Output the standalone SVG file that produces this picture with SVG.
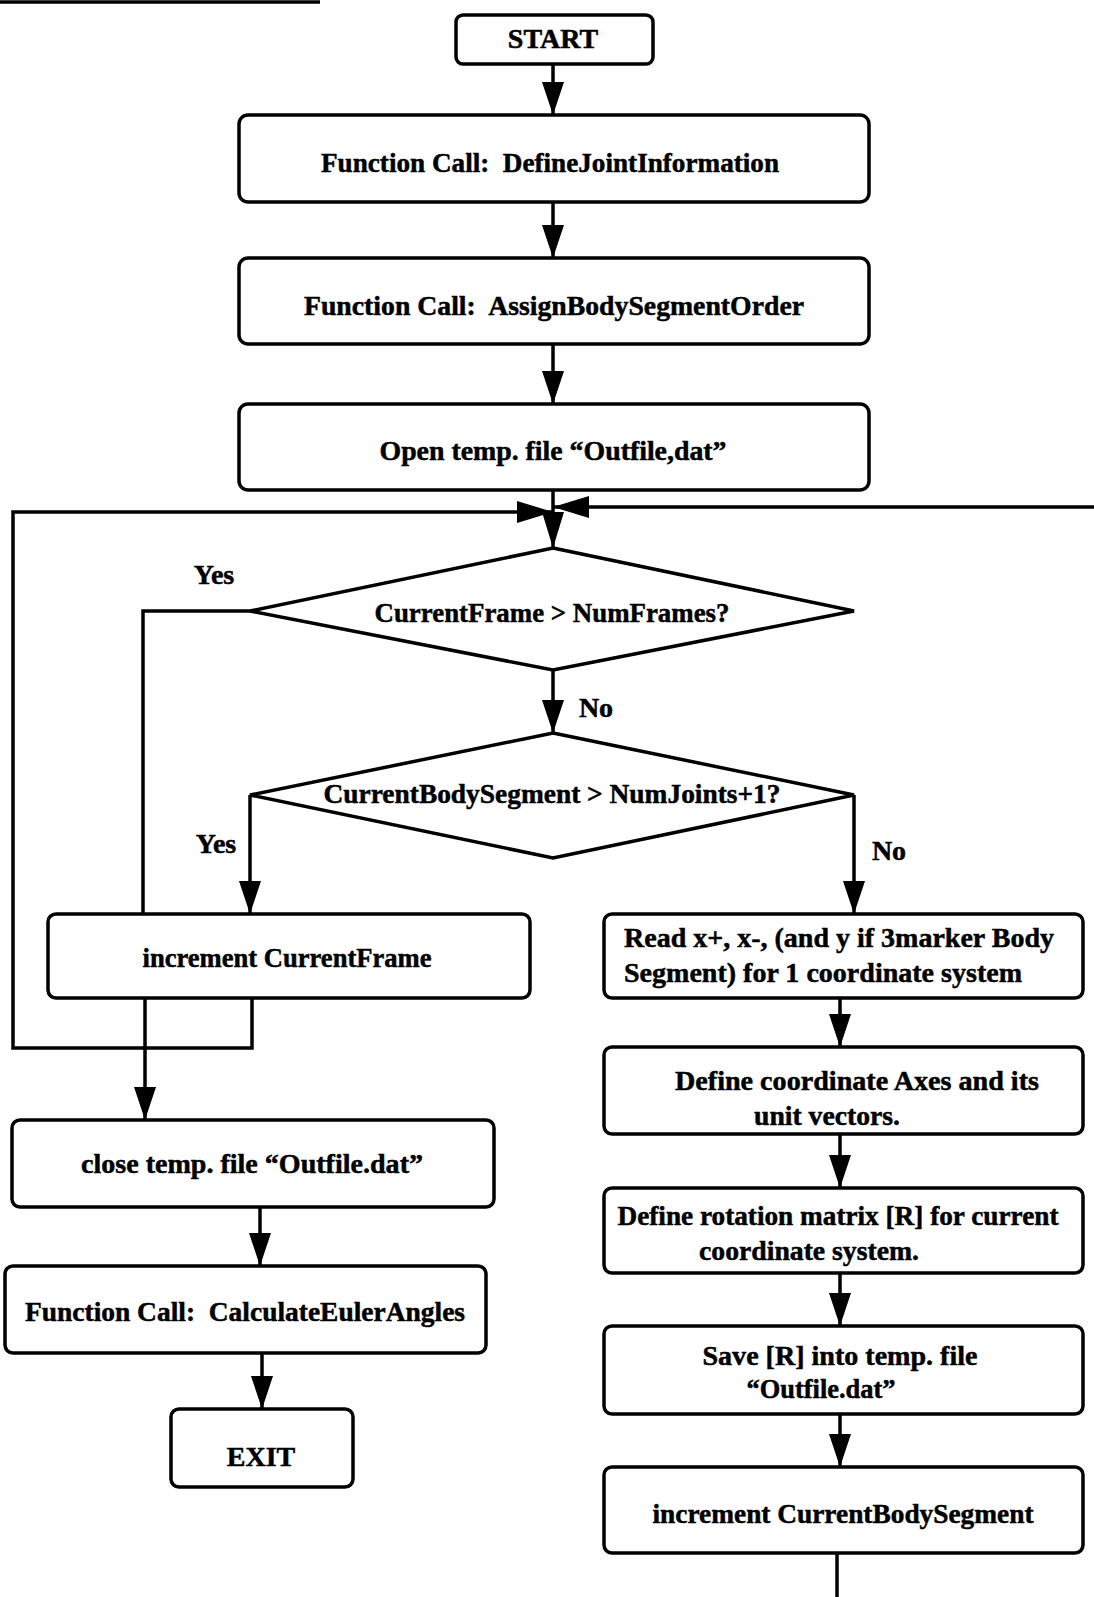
<svg xmlns="http://www.w3.org/2000/svg" width="1094" height="1597" viewBox="0 0 1094 1597">
  <style>
    .box { fill: #fff; stroke: #000; stroke-width: 3.5; }
    .dia { fill: #fff; stroke: #000; stroke-width: 3.5; stroke-linejoin: miter; }
    .ln { fill: none; stroke: #000; stroke-width: 3.5; }
    .lbl { font-family: "Liberation Serif", "Times New Roman", serif; font-weight: bold; font-size: 28px; fill: #000; stroke: #000; stroke-width: 0.5; text-anchor: middle; }
    .lft { text-anchor: start; }
  </style>
  <defs>
    <marker id="arrow" markerUnits="userSpaceOnUse" markerWidth="33" markerHeight="22" refX="33" refY="11" orient="auto">
      <path d="M0,0 L33,11 L0,22 z" fill="#000"/>
    </marker>
    <marker id="arrow-lg" markerUnits="userSpaceOnUse" markerWidth="36" markerHeight="22" refX="36" refY="11" orient="auto">
      <path d="M0,0 L36,11 L0,22 z" fill="#000"/>
    </marker>
  </defs>
  <rect width="1094" height="1597" fill="#fff"/>

  <!-- rule across the top edge -->
  <line class="ln" x1="0" y1="2" x2="320" y2="2" stroke-width="2.5"/>

  <!-- connectors -->
  <g id="connectors">
    <line class="ln" x1="553" y1="64" x2="553" y2="115" marker-end="url(#arrow)"/>
    <line class="ln" x1="553" y1="202" x2="553" y2="258" marker-end="url(#arrow)"/>
    <line class="ln" x1="553" y1="344" x2="553" y2="404" marker-end="url(#arrow)"/>
    <line class="ln" x1="553" y1="490" x2="553" y2="548" marker-end="url(#arrow-lg)"/>
    <!-- outer frame loop back to the test -->
    <polyline class="ln" points="252,998 252,1048 13,1048 13,512 553,512" marker-end="url(#arrow-lg)"/>
    <!-- return from body-segment loop -->
    <line class="ln" x1="1094" y1="507" x2="553" y2="507" marker-end="url(#arrow-lg)"/>
    <!-- CurrentFrame > NumFrames? : Yes -->
    <polyline class="ln" points="250,611 143,611 143,914"/>
    <line class="ln" x1="145" y1="998" x2="145" y2="1120" marker-end="url(#arrow)"/>
    <!-- No -->
    <line class="ln" x1="553" y1="670" x2="553" y2="733" marker-end="url(#arrow)"/>
    <!-- CurrentBodySegment test branches -->
    <line class="ln" x1="250" y1="795" x2="250" y2="914" marker-end="url(#arrow)"/>
    <line class="ln" x1="854" y1="795" x2="854" y2="914" marker-end="url(#arrow)"/>
    <!-- right column -->
    <line class="ln" x1="840" y1="998" x2="840" y2="1047" marker-end="url(#arrow)"/>
    <line class="ln" x1="840" y1="1134" x2="840" y2="1188" marker-end="url(#arrow)"/>
    <line class="ln" x1="840" y1="1273" x2="840" y2="1326" marker-end="url(#arrow)"/>
    <line class="ln" x1="840" y1="1414" x2="840" y2="1467" marker-end="url(#arrow)"/>
    <line class="ln" x1="837" y1="1553" x2="837" y2="1597"/>
    <!-- left column -->
    <line class="ln" x1="260" y1="1207" x2="260" y2="1266" marker-end="url(#arrow)"/>
    <line class="ln" x1="262" y1="1353" x2="262" y2="1409" marker-end="url(#arrow)"/>
  </g>

  <!-- branch labels -->
  <g id="branch-labels">
    <text class="lbl" x="214" y="584">Yes</text>
    <text class="lbl" x="596" y="717">No</text>
    <text class="lbl" x="216" y="853">Yes</text>
    <text class="lbl" x="889" y="860">No</text>
  </g>

  <g id="start">
    <rect class="box" x="456" y="15" width="197" height="49" rx="7"/>
    <text class="lbl" x="553" y="48">START</text>
  </g>

  <g id="define-joint-info">
    <rect class="box" x="239" y="115" width="630" height="87" rx="9"/>
    <text class="lbl" x="550" y="172" textLength="458" lengthAdjust="spacingAndGlyphs">Function Call:&#160; DefineJointInformation</text>
  </g>

  <g id="assign-segment-order">
    <rect class="box" x="239" y="258" width="630" height="86" rx="9"/>
    <text class="lbl" x="554" y="315" textLength="500" lengthAdjust="spacingAndGlyphs">Function Call:&#160; AssignBodySegmentOrder</text>
  </g>

  <g id="open-file">
    <rect class="box" x="239" y="404" width="630" height="86" rx="9"/>
    <text class="lbl" x="553" y="460" textLength="347" lengthAdjust="spacingAndGlyphs">Open temp. file “Outfile,dat”</text>
  </g>

  <g id="frame-test">
    <polygon class="dia" points="553,548 854,611 553,670 250,611"/>
    <text class="lbl" x="552" y="622" textLength="355" lengthAdjust="spacingAndGlyphs">CurrentFrame &gt; NumFrames?</text>
  </g>

  <g id="segment-test">
    <polygon class="dia" points="553,733 854,795 553,858 250,795"/>
    <text class="lbl" x="552" y="803" textLength="457" lengthAdjust="spacingAndGlyphs">CurrentBodySegment &gt; NumJoints+1?</text>
  </g>

  <g id="increment-frame">
    <rect class="box" x="48" y="914" width="482" height="84" rx="8"/>
    <text class="lbl" x="287" y="967" textLength="289" lengthAdjust="spacingAndGlyphs">increment CurrentFrame</text>
  </g>

  <g id="read-markers">
    <rect class="box" x="604" y="914" width="479" height="84" rx="8"/>
    <text class="lbl lft" x="624" y="947" textLength="430" lengthAdjust="spacingAndGlyphs">Read x+, x-, (and y if 3marker Body</text>
    <text class="lbl lft" x="624" y="982" textLength="398" lengthAdjust="spacingAndGlyphs">Segment) for 1 coordinate system</text>
  </g>

  <g id="define-axes">
    <rect class="box" x="604" y="1047" width="479" height="87" rx="8"/>
    <text class="lbl" x="857" y="1090" textLength="364" lengthAdjust="spacingAndGlyphs">Define coordinate Axes and its</text>
    <text class="lbl" x="827" y="1125" textLength="146" lengthAdjust="spacingAndGlyphs">unit vectors.</text>
  </g>

  <g id="rotation-matrix">
    <rect class="box" x="604" y="1188" width="479" height="85" rx="8"/>
    <text class="lbl" x="838" y="1225" textLength="441" lengthAdjust="spacingAndGlyphs">Define rotation matrix [R] for current</text>
    <text class="lbl" x="809" y="1260" textLength="220" lengthAdjust="spacingAndGlyphs">coordinate system.</text>
  </g>

  <g id="save-matrix">
    <rect class="box" x="604" y="1326" width="479" height="88" rx="8"/>
    <text class="lbl" x="840" y="1365" textLength="275" lengthAdjust="spacingAndGlyphs">Save [R] into temp. file</text>
    <text class="lbl" x="821" y="1398" textLength="149" lengthAdjust="spacingAndGlyphs">“Outfile.dat”</text>
  </g>

  <g id="increment-segment">
    <rect class="box" x="604" y="1467" width="479" height="86" rx="8"/>
    <text class="lbl" x="843" y="1523" textLength="381" lengthAdjust="spacingAndGlyphs">increment CurrentBodySegment</text>
  </g>

  <g id="close-file">
    <rect class="box" x="12" y="1120" width="482" height="87" rx="8"/>
    <text class="lbl" x="252" y="1173" textLength="342" lengthAdjust="spacingAndGlyphs">close temp. file “Outfile.dat”</text>
  </g>

  <g id="euler-angles">
    <rect class="box" x="5" y="1266" width="481" height="87" rx="8"/>
    <text class="lbl" x="245" y="1321" textLength="440" lengthAdjust="spacingAndGlyphs">Function Call:&#160; CalculateEulerAngles</text>
  </g>

  <g id="exit">
    <rect class="box" x="171" y="1409" width="182" height="78" rx="8"/>
    <text class="lbl" x="261" y="1466">EXIT</text>
  </g>
</svg>
